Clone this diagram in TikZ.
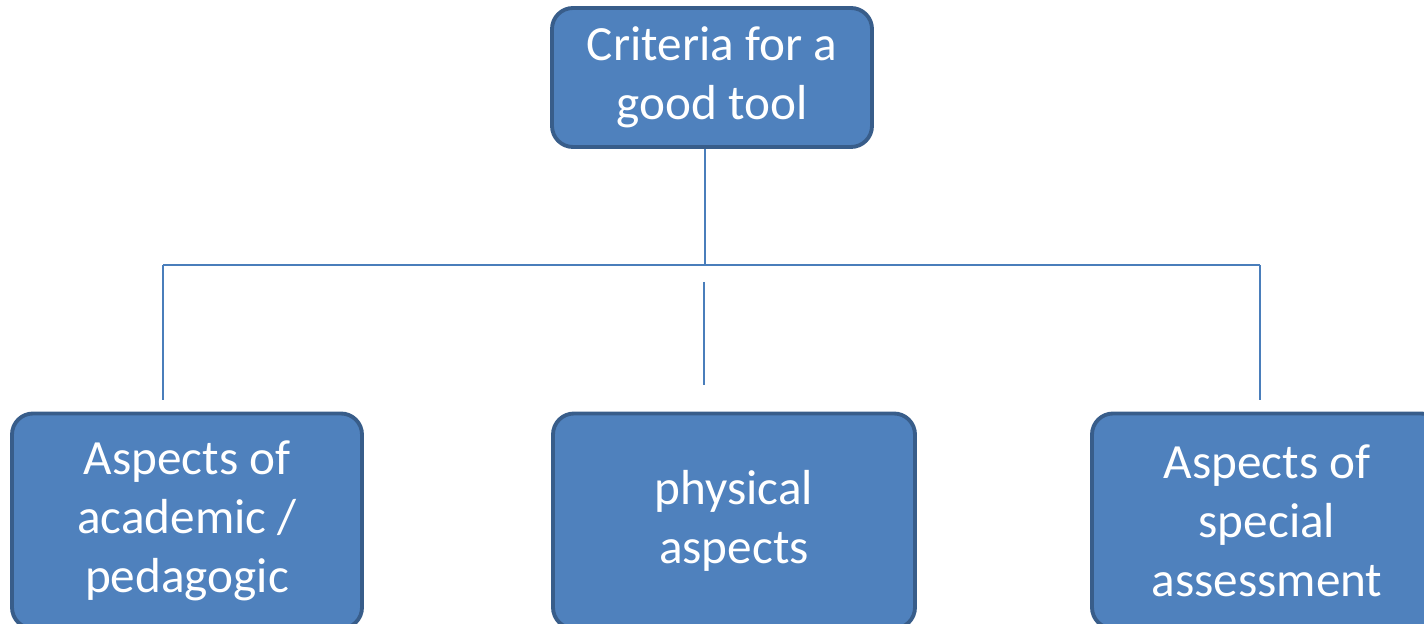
\documentclass[tikz,border=0pt]{standalone}
\usepackage{fontspec}
\setmainfont{Carlito}
\definecolor{boxfill}{HTML}{4F81BD}
\definecolor{boxline}{HTML}{385D8A}
\definecolor{connline}{HTML}{4A7EBB}

\begin{document}
\begin{tikzpicture}[
		critbox/.style={draw=boxline, line width=2.2pt, fill=boxfill, rounded corners=0.42cm, text=white, align=center, inner sep=0pt, font=\fontsize{28}{33.5}\selectfont},
		link/.style={draw=connline, line width=1.2pt}]
		\useasboundingbox (0, 0) rectangle (28.48, 12.48);
		\clip (0, 0) rectangle (28.48, 12.48);
		
		\node [critbox, minimum width=6.4cm, minimum height=2.78cm] (tool) at (14.24, 10.93) {Criteria for a\\good tool}; % Huvudrutan
		\node [critbox, minimum width=7cm, minimum height=4.3cm] (academic) at (3.74, 2.06) {Aspects of\\academic /\\pedagogic};
		\node [critbox, minimum width=7.24cm, minimum height=4.3cm] (physical) at (14.68, 2.06) {physical\\aspects};
		\node [critbox, minimum width=7cm, minimum height=4.3cm] (special) at (25.34, 2.06) {Aspects of\\special\\assessment};
		
		\coordinate (busL) at (3.26, 7.18); % Grenlinjen
		\coordinate (busM) at (14.10, 7.18);
		\coordinate (busR) at (25.20, 7.18);
		\coordinate (dropL) at (3.26, 4.48);
		\coordinate (dropR) at (25.20, 4.48);
		\coordinate (stubT) at (14.08, 6.84);
		\coordinate (stubB) at (14.08, 4.78);
		
		\draw [link] (busM |- tool.south) -- (busM);
		\draw [link] (busL) -- (busR);
		\draw [link, line width=1.6pt] (busL) -- (dropL);
		\draw [link] (busR) -- (dropR);
		\draw [link] (stubT) -- (stubB);
	\end{tikzpicture}
\end{document}
